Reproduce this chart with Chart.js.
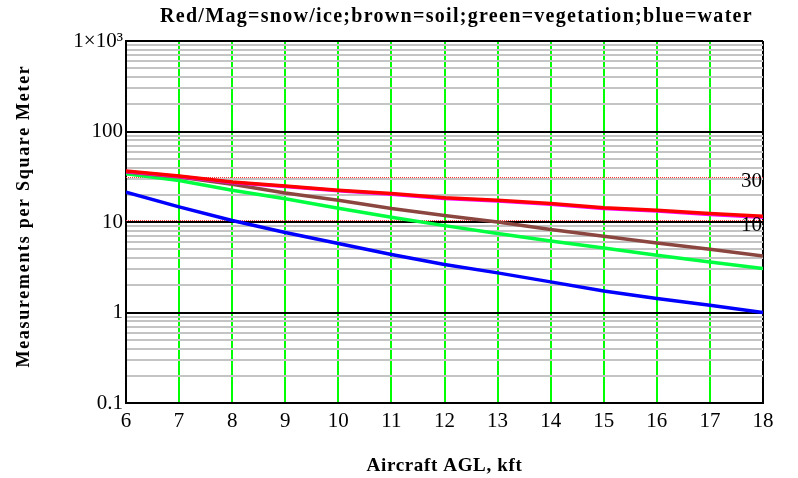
<!DOCTYPE html>
<html><head><meta charset="utf-8">
<script src="https://cdn.jsdelivr.net/npm/chart.js@4/dist/chart.umd.min.js"></script>
<style>html,body{margin:0;padding:0;background:#fff}#wrap{width:798px;height:478px;position:relative}</style>
</head><body><div id="wrap"><canvas id="c"></canvas></div>
<script>
const altitudeKft = [6,7,8,9,10,11,12,13,14,15,16,17,18];
const snowIceRed = [36.6,32.2,27.6,25.0,22.4,20.6,18.5,17.4,16.0,14.4,13.5,12.4,11.6];
const snowIceMagenta = [36.2,31.9,27.3,24.7,22.1,20.3,18.2,17.1,15.7,14.1,13.2,12.1,11.3];
const soilBrown = [35.6,31.4,26.1,20.9,17.4,14.1,11.8,10.0,8.26,6.95,5.86,5.00,4.22];
const vegetationGreen = [34.2,28.8,22.4,18.1,14.2,11.3,9.12,7.45,6.15,5.16,4.29,3.62,3.06];
const waterBlue = [21.4,14.7,10.4,7.66,5.78,4.37,3.39,2.74,2.18,1.73,1.43,1.20,1.00];
const xTickValues = [6,7,8,9,10,11,12,13,14,15,16,17,18];
const yDecadeTicks = [0.1,1,10,100,1000];
const yDecadeLabels = ['0.1','1','10','100','1×10³'];
const yMinorMultipliers = [1,2,3,4,5,6,7,8,9];
const refLevels = [30,10];
const refLabels = ['30','10'];
const titleText = 'Red/Mag=snow/ice;brown=soil;green=vegetation;blue=water';
const xTitle = 'Aircraft AGL, kft';
const yTitle = 'Measurements per Square Meter';

const SERIF = "'Liberation Serif','Times New Roman',serif";
const isDecade = v => yDecadeTicks.some(d => Math.abs(v - d) / d < 1e-6);
const decadeLabel = v => { const i = yDecadeTicks.findIndex(d => Math.abs(v - d) / d < 1e-6); return i >= 0 ? yDecadeLabels[i] : ''; };

const pts = arr => altitudeKft.map((x, i) => ({x, y: arr[i]}));
const ds = (label, arr, color) => ({label, data: pts(arr), borderColor: color, backgroundColor: color, borderWidth: 3.5, pointRadius: 0, tension: 0, fill: false});

const refPlugin = {
  id: 'refLines',
  beforeDatasetsDraw(chart) {
    const {ctx, chartArea: a, scales: {y}} = chart;
    ctx.save();
    ctx.strokeStyle = '#ff3030';
    ctx.lineWidth = 1;
    ctx.setLineDash([1, 1]);
    refLevels.forEach(v => {
      const py = Math.round(y.getPixelForValue(v)) - 1.5;
      ctx.beginPath(); ctx.moveTo(a.left, py); ctx.lineTo(a.right, py); ctx.stroke();
    });
    ctx.restore();
  },
  afterDatasetsDraw(chart) {
    const {ctx, chartArea: a, scales: {y}} = chart;
    ctx.save();
    ctx.fillStyle = '#000';
    ctx.font = '21px ' + SERIF;
    ctx.textAlign = 'right';
    ctx.textBaseline = 'middle';
    refLevels.forEach((v, i) => {
      ctx.fillText(refLabels[i], a.right - 1, y.getPixelForValue(v) + 3);
    });
    ctx.restore();
  }
};

const titlesPlugin = {
  id: 'spacedTitles',
  afterDraw(chart) {
    const {ctx, chartArea: a} = chart;
    const cx = (a.left + a.right) / 2;
    ctx.save();
    ctx.fillStyle = '#000';
    ctx.textAlign = 'center';
    ctx.textBaseline = 'middle';
    ctx.font = 'bold 20px ' + SERIF;
    ctx.letterSpacing = '1.3px';
    ctx.fillText(titleText, cx + 12, 17);
    ctx.font = 'bold 19px ' + SERIF;
    ctx.letterSpacing = '0.65px';
    ctx.fillText(xTitle, cx, 466);
    ctx.font = 'bold 18px ' + SERIF;
    ctx.letterSpacing = '1.7px';
    ctx.translate(24, (a.top + a.bottom) / 2 - 6);
    ctx.rotate(-Math.PI / 2);
    ctx.fillText(yTitle, 0, 0);
    ctx.restore();
  }
};

new Chart(document.getElementById('c'), {
  type: 'line',
  data: {
    datasets: [
      ds('snow/ice (red)', snowIceRed, '#ff0000'),
      ds('snow/ice (magenta)', snowIceMagenta, '#ff00ff'),
      ds('soil', soilBrown, '#8b4640'),
      ds('vegetation', vegetationGreen, '#00ff40'),
      ds('water', waterBlue, '#0000ff')
    ]
  },
  options: {
    responsive: true,
    maintainAspectRatio: false,
    animation: false,
    layout: {padding: {left: 0, right: 35, top: 41, bottom: 0}},
    plugins: {
      legend: {display: false},
      tooltip: {enabled: false},
      title: {display: false}
    },
    scales: {
      x: {
        type: 'linear', min: 6, max: 18,
        afterBuildTicks: s => { s.ticks = xTickValues.map(v => ({value: v})); },
        afterFit: s => { s.height = 75; },
        ticks: {color: '#000', font: {family: SERIF, size: 21}, padding: 6, autoSkip: false, maxRotation: 0},
        grid: {drawTicks: false, lineWidth: 2, color: c => (c.tick && (c.tick.value === 6 || c.tick.value === 18)) ? '#000' : '#00ff00'},
        border: {display: true, color: '#000', width: 2},
        title: {display: false}
      },
      y: {
        type: 'logarithmic', min: 0.1, max: 1000,
        afterBuildTicks: s => {
          const t = [];
          yDecadeTicks.slice(0, -1).forEach(d => yMinorMultipliers.forEach(m => t.push({value: +(m * d).toPrecision(6)})));
          t.push({value: yDecadeTicks[yDecadeTicks.length - 1]});
          s.ticks = t;
        },
        afterFit: s => { s.width = 126; },
        ticks: {color: '#000', font: {family: SERIF, size: 21}, padding: 3, autoSkip: false, callback: v => decadeLabel(v)},
        grid: {drawTicks: false, lineWidth: 2, color: c => (c.tick && isDecade(c.tick.value)) ? '#000' : '#c4c4c4'},
        border: {display: true, color: '#000', width: 2},
        title: {display: false}
      }
    }
  },
  plugins: [refPlugin, titlesPlugin]
});
</script></body></html>
